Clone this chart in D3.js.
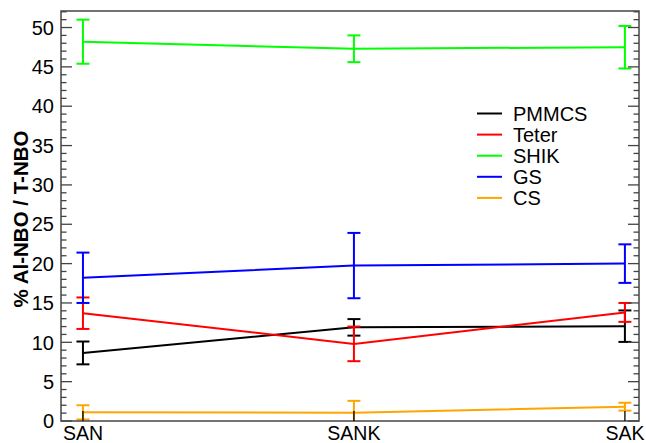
<!DOCTYPE html>
<html>
<head>
<meta charset="utf-8">
<script src="https://cdn.jsdelivr.net/npm/d3@7"></script>
<style>
  html, body { margin: 0; padding: 0; background: #fff; }
  svg { display: block; }
  text { font-family: "Liberation Sans", Arial, Helvetica, sans-serif; }
</style>
</head>
<body>
<svg id="chart" width="646" height="443"></svg>
<script>
// Compositions along the x axis
const categories = ["SAN", "SANK", "SAK"];

// Series: mean value and half-width of the error bar per composition
const seriesNames = ["PMMCS", "Teter", "SHIK", "GS", "CS"];
const seriesColors = ["#000000", "#ff0000", "#00ff00", "#0000ff", "#ffa500"];

const pmmcsValues = [8.65, 11.9, 12.05];
const pmmcsErrors = [1.45, 1.05, 2.0];
const teterValues = [13.7, 9.8, 13.8];
const teterErrors = [2.0, 2.2, 1.2];
const shikValues = [48.2, 47.3, 47.5];
const shikErrors = [2.8, 1.7, 2.7];
const gsValues = [18.2, 19.75, 20.0];
const gsErrors = [3.2, 4.15, 2.45];
const csValues = [1.1, 1.06, 1.82];
const csErrors = [0.9, 1.5, 0.5];

// Axis ticks
const yMajorTicks = [0, 5, 10, 15, 20, 25, 30, 35, 40, 45, 50];
const yTitle = "% Al-NBO / T-NBO";

const valueSets = [pmmcsValues, teterValues, shikValues, gsValues, csValues];
const errorSets = [pmmcsErrors, teterErrors, shikErrors, gsErrors, csErrors];

const series = seriesNames.map((name, i) => ({
  name,
  color: seriesColors[i],
  points: categories.map((c, j) => ({ idx: j, v: valueSets[i][j], e: errorSets[i][j] }))
}));

const svg = d3.select("#chart");
const plotLeft = 61, plotRight = 639, plotTop = 11, plotBottom = 421;
const axisColor = "#444";

const x = d3.scaleLinear().domain([-0.081, 2.052]).range([plotLeft, plotRight]);
const y = d3.scaleLinear().domain([0, 52.1]).range([plotBottom, plotTop]);

svg.append("clipPath").attr("id", "clip")
  .append("rect").attr("x", plotLeft).attr("y", plotTop)
  .attr("width", plotRight - plotLeft).attr("height", plotBottom - plotTop);

const data = svg.append("g").attr("clip-path", "url(#clip)");

const line = d3.line().x(d => x(d.idx)).y(d => y(d.v));
const capHalf = 6.5;

series.forEach(s => {
  const g = data.append("g");
  g.append("path")
    .attr("d", line(s.points))
    .attr("fill", "none")
    .attr("stroke", s.color)
    .attr("stroke-width", 2);
  s.points.forEach(p => {
    const cx = x(p.idx), y1 = y(p.v + p.e), y0 = y(p.v - p.e);
    g.append("line").attr("x1", cx).attr("x2", cx).attr("y1", y1).attr("y2", y0)
      .attr("stroke", s.color).attr("stroke-width", 2);
    [y1, y0].forEach(yy => {
      g.append("line").attr("x1", cx - capHalf).attr("x2", cx + capHalf)
        .attr("y1", yy).attr("y2", yy)
        .attr("stroke", s.color).attr("stroke-width", 2);
    });
  });
});

// Frame and ticks
const axes = svg.append("g");
axes.append("rect")
  .attr("x", plotLeft).attr("y", plotTop)
  .attr("width", plotRight - plotLeft).attr("height", plotBottom - plotTop)
  .attr("fill", "none").attr("stroke", axisColor).attr("stroke-width", 1.5);

const minorTicks = d3.range(0, 53).filter(v => v % 5 !== 0 && y(v) >= plotTop);
const majorLen = 11, minorLen = 5.5;

// ticks on the left and right sides, pointing into the plot
function yTick(v, len) {
  axes.append("line").attr("x1", plotLeft).attr("x2", plotLeft + len)
    .attr("y1", y(v)).attr("y2", y(v)).attr("stroke", axisColor).attr("stroke-width", 1.3);
  axes.append("line").attr("x1", plotRight).attr("x2", plotRight - len)
    .attr("y1", y(v)).attr("y2", y(v)).attr("stroke", axisColor).attr("stroke-width", 1.3);
}
yMajorTicks.forEach(v => yTick(v, majorLen));
minorTicks.forEach(v => yTick(v, minorLen));

// tick labels on the y axis
axes.selectAll("text.ytick").data(yMajorTicks).enter().append("text")
  .attr("class", "ytick")
  .attr("x", plotLeft - 7)
  .attr("y", d => y(d))
  .attr("dy", "0.36em")
  .attr("text-anchor", "end")
  .attr("font-size", 20)
  .attr("fill", "#000")
  .text(d => d);

// category ticks on the bottom axis
categories.forEach((c, i) => {
  axes.append("line").attr("x1", x(i)).attr("x2", x(i))
    .attr("y1", plotBottom).attr("y2", plotBottom - 10)
    .attr("stroke", "#000").attr("stroke-width", 1.3);
});
axes.selectAll("text.xtick").data(categories).enter().append("text")
  .attr("class", "xtick")
  .attr("x", (d, i) => x(i))
  .attr("y", 439.5)
  .attr("text-anchor", "middle")
  .attr("font-size", 19.5)
  .attr("fill", "#000")
  .text(d => d);

// y axis title
axes.append("text")
  .attr("transform", "translate(28,219) rotate(-90)")
  .attr("text-anchor", "middle")
  .attr("font-size", 20.5)
  .attr("font-weight", "bold")
  .attr("fill", "#000")
  .text(yTitle);

// legend
const legend = svg.append("g");
series.forEach((s, i) => {
  const ly = 113.5 + i * 21.1;
  legend.append("line").attr("x1", 477).attr("x2", 502)
    .attr("y1", ly).attr("y2", ly)
    .attr("stroke", s.color).attr("stroke-width", 2);
  legend.append("text")
    .attr("x", 513).attr("y", ly).attr("dy", "0.36em")
    .attr("font-size", 20)
    .attr("fill", "#000")
    .text(s.name);
});
</script>
</body>
</html>
